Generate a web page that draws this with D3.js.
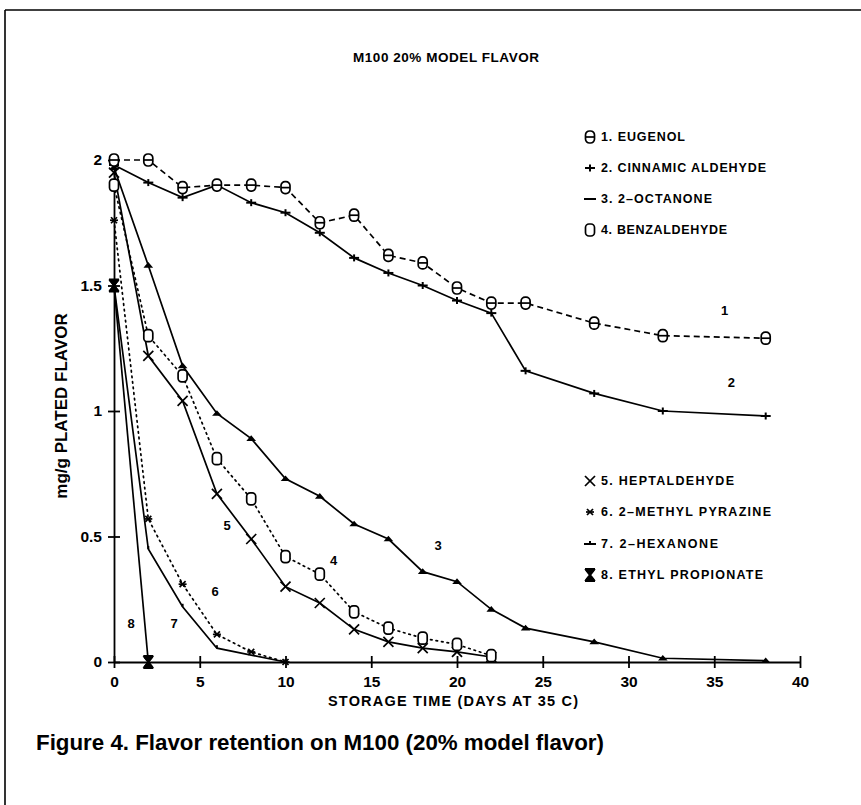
<!DOCTYPE html>
<html><head><meta charset="utf-8">
<script src="https://cdn.jsdelivr.net/npm/d3@7"></script>
<style>
html,body{margin:0;padding:0;background:#fff;}
svg text{font-family:"Liberation Sans",Arial,sans-serif;fill:#000;font-weight:bold;}
</style></head>
<body>
<svg id="chart" width="861" height="805"></svg>
<script>
// ---- data ----
const daysLong = [0,2,4,6,8,10,12,14,16,18,20,22,24,28,32,38];
const eugenol   = [2.00,2.00,1.89,1.90,1.90,1.89,1.75,1.78,1.62,1.59,1.49,1.43,1.43,1.35,1.30,1.29];
const cinnamic  = [1.98,1.91,1.85,1.90,1.83,1.79,1.71,1.61,1.55,1.50,1.44,1.39,1.16,1.07,1.00,0.98];
const octanone  = [1.97,1.58,1.18,0.99,0.89,0.73,0.66,0.55,0.49,0.36,0.32,0.21,0.135,0.08,0.015,0.005];
const daysMid = [0,2,4,6,8,10,12,14,16,18,20,22];
const benzaldehyde = [1.90,1.30,1.14,0.81,0.65,0.42,0.35,0.20,0.135,0.095,0.07,0.025];
const heptaldehyde = [1.95,1.22,1.04,0.67,0.49,0.30,0.235,0.13,0.08,0.055,0.04,0.02];
const daysPyr = [0,2,4,6,8,10];
const methylPyrazine = [1.76,0.57,0.31,0.11,0.04,0.0];
const daysHex = [0,2,4,6,10];
const hexanone = [1.50,0.45,0.22,0.055,0.0];
const daysEP = [0,2];
const ethylPropionate = [1.50,0.0];

const seriesNames = ["1. EUGENOL","2. CINNAMIC ALDEHYDE","3. 2\u2013OCTANONE","4. BENZALDEHYDE",
  "5. HEPTALDEHYDE","6. 2\u2013METHYL PYRAZINE","7. 2\u2013HEXANONE","8. ETHYL PROPIONATE"];
const curveLabels = ["1","2","3","4","5","6","7","8"];
const labelDays   = [35.6,36.0,18.9,12.8,6.6,5.9,3.5,1.0];
const labelValues = [1.40,1.115,0.466,0.406,0.546,0.28,0.155,0.155];
const xTicks = [0,5,10,15,20,25,30,35,40];
const yTicks = [0,0.5,1,1.5,2];
const title = "M100 20% MODEL FLAVOR";
const xTitle = "STORAGE TIME (DAYS AT 35 C)";
const yTitle = "mg/g PLATED FLAVOR";
const caption = "Figure 4. Flavor retention on M100 (20% model flavor)";

// ---- setup ----
const svg = d3.select("#chart");
const x = d3.scaleLinear().domain([0,40]).range([114,800]);
const y = d3.scaleLinear().domain([0,2]).range([662,160]);

// frame
svg.append("line").attr("x1",5).attr("y1",10).attr("x2",861).attr("y2",10).attr("stroke","#000").attr("stroke-width",1.6);
svg.append("line").attr("x1",5).attr("y1",10).attr("x2",5).attr("y2",805).attr("stroke","#000").attr("stroke-width",1.6);

svg.append("text").attr("x",446).attr("y",62).attr("text-anchor","middle")
  .attr("font-size",13.5).attr("textLength",186).attr("lengthAdjust","spacing").text(title);

// axes
const xAxis = d3.axisBottom(x).tickValues(xTicks).tickSize(0).tickPadding(14).tickFormat(d3.format("d"));
const gx = svg.append("g").attr("transform",`translate(0,${y(0)})`).call(xAxis);
gx.select(".domain").attr("stroke","#000").attr("stroke-width",1.8);
gx.selectAll(".tick").append("line").attr("y1",-6).attr("y2",6).attr("stroke","#000").attr("stroke-width",1.8);
gx.selectAll("text").attr("font-size",15.5).attr("font-weight","bold").attr("font-family","Liberation Sans, Arial, sans-serif");

const yAxis = d3.axisLeft(y).tickValues(yTicks).tickSize(0).tickPadding(12).tickFormat(d=>String(d));
const gy = svg.append("g").attr("transform",`translate(${x(0)},0)`).call(yAxis);
gy.select(".domain").attr("stroke","#000").attr("stroke-width",1.8);
gy.selectAll(".tick").append("line").attr("x1",-6).attr("x2",6).attr("stroke","#000").attr("stroke-width",1.8);
gy.selectAll("text").attr("font-size",15.5).attr("font-weight","bold").attr("font-family","Liberation Sans, Arial, sans-serif");

svg.append("text").attr("x",453).attr("y",706).attr("text-anchor","middle")
  .attr("font-size",14.5).attr("textLength",250).attr("lengthAdjust","spacing").text(xTitle);
svg.append("text").attr("transform","translate(67,406) rotate(-90)").attr("text-anchor","middle")
  .attr("font-size",17).text(yTitle);

svg.append("text").attr("x",36).attr("y",750).attr("font-size",22)
  .attr("textLength",568).attr("lengthAdjust","spacingAndGlyphs").text(caption);

// ---- markers ----
function marker(g, type){
  g.attr("stroke","#000").attr("stroke-width",1.7).attr("fill","none");
  if(type==="eug"){
    g.append("rect").attr("x",-4.5).attr("y",-6).attr("width",9).attr("height",12).attr("rx",4).attr("fill","#fff");
    g.append("line").attr("x1",-4.5).attr("x2",4.5).attr("y1",0).attr("y2",0);
  } else if(type==="cin"){
    g.append("line").attr("x1",-5).attr("x2",5).attr("y1",0).attr("y2",0).attr("stroke-width",2);
    g.append("line").attr("x1",0).attr("x2",0).attr("y1",-3.5).attr("y2",3.5).attr("stroke-width",2);
  } else if(type==="oct"){
    g.append("path").attr("d","M-3,1.5L0,-2L3,1.5Z").attr("fill","#000");
  } else if(type==="benz"){
    g.append("rect").attr("x",-4.5).attr("y",-6).attr("width",9).attr("height",12).attr("rx",3.5).attr("fill","#fff");
  } else if(type==="hept"){
    g.append("line").attr("x1",-5).attr("x2",5).attr("y1",-5).attr("y2",5);
    g.append("line").attr("x1",-5).attr("x2",5).attr("y1",5).attr("y2",-5);
  } else if(type==="pyr"){
    g.append("line").attr("x1",-4).attr("x2",4).attr("y1",0).attr("y2",0);
    g.append("line").attr("x1",-3).attr("x2",3).attr("y1",-3).attr("y2",3);
    g.append("line").attr("x1",-3).attr("x2",3).attr("y1",3).attr("y2",-3);
  } else if(type==="hex"){
    g.append("line").attr("x1",0).attr("x2",0).attr("y1",0).attr("y2",-3).attr("stroke-width",2);
  } else if(type==="ep"){
    g.append("path").attr("d","M-5,-6H5M-5,6H5M-4,-5L4,5M4,-5L-4,5").attr("stroke-width",2);
    g.append("path").attr("d","M-4,-5L4,-5L0,0Z M-4,5L4,5L0,0Z").attr("fill","#000");
  }
}

const series = [
  {days:daysLong, vals:eugenol, dash:"6,4", type:"eug"},
  {days:daysLong, vals:cinnamic, dash:null, type:"cin"},
  {days:daysLong, vals:octanone, dash:null, type:"oct"},
  {days:daysMid, vals:benzaldehyde, dash:"1.6,4", type:"benz"},
  {days:daysMid, vals:heptaldehyde, dash:null, type:"hept"},
  {days:daysPyr, vals:methylPyrazine, dash:"1.6,4", type:"pyr"},
  {days:daysHex, vals:hexanone, dash:null, type:"hex"},
  {days:daysEP, vals:ethylPropionate, dash:null, type:"ep"}
];

const line = d3.line().x(d=>x(d[0])).y(d=>y(d[1]));
series.forEach((s)=>{
  const pts = s.days.map((d,j)=>[d,s.vals[j]]);
  svg.append("path").datum(pts).attr("d",line).attr("fill","none").attr("stroke","#000")
    .attr("stroke-width",1.7).attr("stroke-dasharray",s.dash)
    .attr("stroke-linecap", s.dash && s.dash.startsWith("1.6") ? "round" : "butt");
});
series.slice().reverse().forEach((s)=>{
  s.days.forEach((d,j)=>{
    const g = svg.append("g").attr("transform",`translate(${x(d)},${y(s.vals[j])})`);
    marker(g, s.type);
  });
});

// curve number labels
curveLabels.forEach((t,i)=>{
  svg.append("text").attr("x",x(labelDays[i])).attr("y",y(labelValues[i])).attr("dy","0.35em")
    .attr("text-anchor","middle").attr("font-size",13).text(t);
});

// legend
const legTop = [137,168,199,230];
const legBot = [481,512,544,575];
const legWidths = [84,165,111,126,133,170,117,162];
const types = ["eug","cin","oct","benz","hept","pyr","hex","ep"];
seriesNames.forEach((name,i)=>{
  const yy = i<4 ? legTop[i] : legBot[i-4];
  const mx = 590;
  const g = svg.append("g").attr("transform",`translate(${mx},${yy})`);
  if(types[i]==="oct"){
    g.append("line").attr("x1",-6).attr("x2",6).attr("y1",0).attr("y2",0).attr("stroke","#000").attr("stroke-width",2);
  } else if(types[i]==="hex"){
    g.append("line").attr("x1",-6).attr("x2",6).attr("y1",0).attr("y2",0).attr("stroke","#000").attr("stroke-width",2);
    marker(g,"hex");
  } else {
    marker(g, types[i]);
  }
  svg.append("text").attr("x",mx+11).attr("y",yy).attr("dy","0.35em")
    .attr("font-size",12.5).attr("textLength",legWidths[i]).attr("lengthAdjust","spacing").text(name);
});
</script>
</body></html>
